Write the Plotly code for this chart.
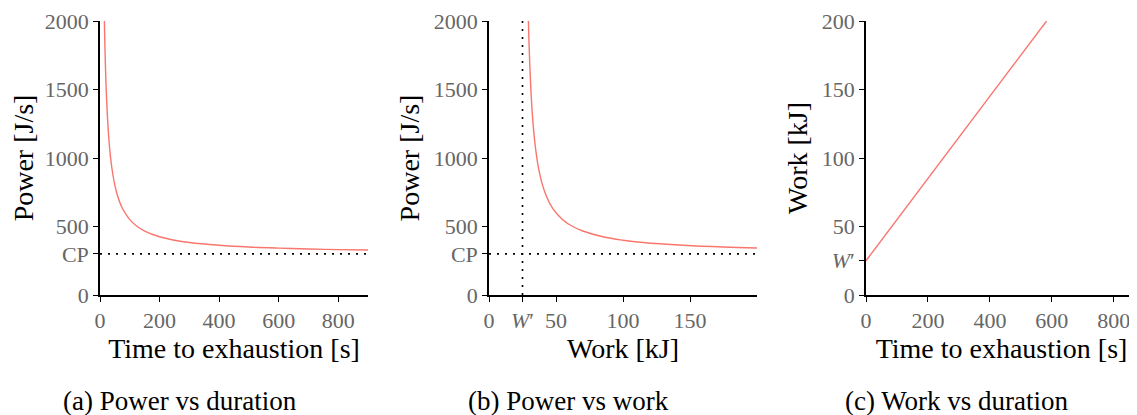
import plotly.graph_objects as go

# (a) power vs time to exhaustion
time_a = [14.7, 16, 18, 20, 22, 25, 30, 35, 40, 50, 60, 75, 100, 125, 150, 200, 250, 300, 400, 500, 600, 700, 800, 900]
power_a = [2001, 1863, 1689, 1550, 1436, 1300, 1133, 1014, 925, 800, 717, 633, 550, 500, 467, 425, 400, 383, 363, 350, 342, 336, 331, 328]

# (b) power vs work
work_b = [29.4, 29.8, 30.4, 31.0, 31.6, 32.5, 34.0, 35.5, 37.0, 40.0, 43.0, 47.5, 55.0, 62.5, 70.0, 85.0, 100.0, 115.0, 145.0, 175.0, 200.0]
power_b = [2001, 1863, 1689, 1550, 1436, 1300, 1133, 1014, 925, 800, 717, 633, 550, 500, 467, 425, 400, 383, 363, 350, 343]

# (c) work vs time to exhaustion
time_c = [0, 583]
work_c = [25, 200]

cp_value = 300
w_prime = 25

power_ticks = [0, cp_value, 500, 1000, 1500, 2000]
power_ticktext = ["0", "CP", "500", "1000", "1500", "2000"]
work_ticks_b = [0, w_prime, 50, 100, 150]
work_ticktext_b = ["0", "<i>W</i>′", "50", "100", "150"]
work_ticks_c = [0, w_prime, 50, 100, 150, 200]
work_ticktext_c = ["0", "<i>W</i>′", "50", "100", "150", "200"]
time_ticks = [0, 200, 400, 600, 800]

captions = ["(a) Power vs duration", "(b) Power vs work", "(c) Work vs duration"]

LINE_COLOR = "#f8766d"
FONT = "Liberation Serif"
TICK_FONT = dict(family=FONT, size=22, color="#666666")
TITLE_FONT = dict(family=FONT, size=28, color="black")
DOTS = dict(color="black", width=1.6, dash="2px,6px")

# the page body adds an 8px margin, so lay out in window pixels minus that offset
PAD = 8
W, H = 1137 - PAD, 415 - PAD


def px_x(x):
    return (x - PAD) / W


def px_y(y):
    return 1 - (y - PAD) / H


y_dom = [px_y(295), px_y(21)]
x_doms = [[px_x(100), px_x(368)], [px_x(489), px_x(757)], [px_x(866), 1.0]]

fig = go.Figure()

fig.add_trace(go.Scatter(x=time_a, y=power_a, mode="lines", line=dict(color=LINE_COLOR, width=1.4, shape="spline"),
                         xaxis="x", yaxis="y", showlegend=False))
fig.add_trace(go.Scatter(x=[0, 900], y=[cp_value, cp_value], mode="lines", line=DOTS,
                         xaxis="x", yaxis="y", showlegend=False))

fig.add_trace(go.Scatter(x=work_b, y=power_b, mode="lines", line=dict(color=LINE_COLOR, width=1.4, shape="spline"),
                         xaxis="x2", yaxis="y2", showlegend=False))
fig.add_trace(go.Scatter(x=[0, 200], y=[cp_value, cp_value], mode="lines", line=DOTS,
                         xaxis="x2", yaxis="y2", showlegend=False))
fig.add_trace(go.Scatter(x=[w_prime, w_prime], y=[0, 2000], mode="lines", line=DOTS,
                         xaxis="x2", yaxis="y2", showlegend=False))

fig.add_trace(go.Scatter(x=time_c, y=work_c, mode="lines", line=dict(color=LINE_COLOR, width=1.4),
                         xaxis="x3", yaxis="y3", showlegend=False))


def x_axis(dom, rng, ticks, ticktext, title, anchor):
    return dict(domain=dom, range=rng, tickvals=ticks, ticktext=ticktext, anchor=anchor, automargin=False,
                showgrid=False, zeroline=False, showline=True, linecolor="black", linewidth=1.6,
                ticks="outside", ticklen=5, tickcolor="black", tickwidth=1.2, tickfont=TICK_FONT,
                title=dict(text=title, font=TITLE_FONT, standoff=4))


def y_axis(ticks, ticktext, title, anchor):
    return dict(domain=y_dom, range=[0, ticks[-1]], tickvals=ticks, ticktext=ticktext, anchor=anchor,
                automargin=False, showgrid=False, zeroline=False, showline=True, linecolor="black",
                linewidth=1.6, ticks="outside", ticklen=5, tickcolor="black", tickwidth=1.2, tickfont=TICK_FONT,
                title=dict(text=title, font=TITLE_FONT, standoff=6))


fig.update_layout(
    width=W,
    height=H,
    margin=dict(l=0, r=0, t=0, b=0),
    plot_bgcolor="white",
    paper_bgcolor="white",
    xaxis=x_axis(x_doms[0], [0, 900], time_ticks, [str(t) for t in time_ticks], "Time to exhaustion [s]", "y"),
    yaxis=y_axis(power_ticks, power_ticktext, "Power [J/s]", "x"),
    xaxis2=x_axis(x_doms[1], [0, 200], work_ticks_b, work_ticktext_b, "Work [kJ]", "y2"),
    yaxis2=y_axis(power_ticks, power_ticktext, "Power [J/s]", "x2"),
    xaxis3=x_axis(x_doms[2], [0, 875], time_ticks, [str(t) for t in time_ticks], "Time to exhaustion [s]", "y3"),
    yaxis3=y_axis(work_ticks_c, work_ticktext_c, "Work [kJ]", "x3"),
)

caption_x = [180, 568, 957]
for cx, text in zip(caption_x, captions):
    fig.add_annotation(x=px_x(cx), y=px_y(401), xref="paper", yref="paper", text=text, showarrow=False,
                       font=dict(family=FONT, size=27, color="black"), xanchor="center", yanchor="middle")

fig.write_html("out.html")
